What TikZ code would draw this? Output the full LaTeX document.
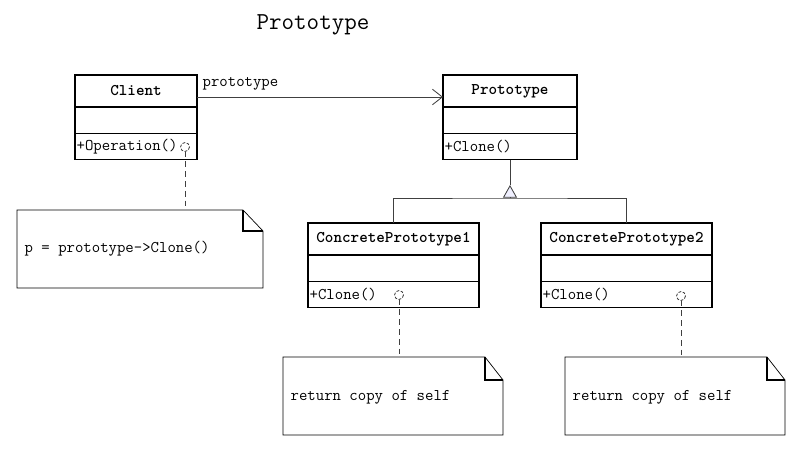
\documentclass[tikz,border=0pt]{standalone}
\usetikzlibrary{arrows.meta, positioning, calc}

\begin{document}
\begin{tikzpicture}[
		x=0.025cm, y=-0.025cm,
		every node/.style={font=\ttfamily\fontsize{11.6}{13}\selectfont, inner sep=1pt},
		head/.style={draw, line width=0.8pt, minimum width=#1, minimum height=0.8cm, outer sep=0pt, font=\ttfamily\bfseries\fontsize{11.6}{13}\selectfont},
		part/.style={draw, line width=0.8pt, minimum width=#1, minimum height=0.66cm, outer sep=0pt},
		assoc/.style={draw=black!75, line width=0.6pt, -{Straight Barb[length=7pt, width=11pt]}},
		link/.style={draw=black!75, line width=0.6pt},
		anchorline/.style={draw=black!75, line width=0.6pt, dashed, dash pattern=on 4pt off 3pt},
		port/.style={draw=black!75, line width=0.6pt, dash pattern=on 2pt off 1.2pt},
		gentip/.style={draw=black!75, line width=0.6pt, -{Triangle[open, fill=blue!6, length=9pt, width=10pt]}},
		notebox/.style={draw, line width=0.5pt, fill=white},
		fold/.style={draw, line width=0.8pt}
		]
	
		\useasboundingbox (0,0) rectangle (806,453);
	
		% title
		\node[font=\ttfamily\fontsize{17.3}{20}\selectfont] (title) at (313,25) {Prototype};
	
		% Client
		\node[head=3.05cm] at (136,91) (clih) {Client};
		\node[part=3.05cm, below=0pt of clih] (clia) {};
		\node[part=3.05cm, below=0pt of clia] (clim) {};
		\node[anchor=west] at (clim.west) (cliop) {+Operation()};
	
		% Prototype
		\node[head=3.35cm] at (510,91) (proh) {Prototype};
		\node[part=3.35cm, below=0pt of proh] (proa) {};
		\node[part=3.35cm, below=0pt of proa] (prom) {};
		\node[anchor=west] at (prom.west) (proop) {+Clone()};
	
		% ConcretePrototype1
		\node[head=4.275cm] at (393.5,239) (cp1h) {ConcretePrototype1};
		\node[part=4.275cm, below=0pt of cp1h] (cp1a) {};
		\node[part=4.275cm, below=0pt of cp1a] (cp1m) {};
		\node[anchor=west] at (cp1m.west) (cp1op) {+Clone()};
	
		% ConcretePrototype2
		\node[head=4.275cm] at (626.5,239) (cp2h) {ConcretePrototype2};
		\node[part=4.275cm, below=0pt of cp2h] (cp2a) {};
		\node[part=4.275cm, below=0pt of cp2a] (cp2m) {};
		\node[anchor=west] at (cp2m.west) (cp2op) {+Clone()};
	
		% association
		\draw[assoc] (clih.east |- 0,97) -- (proh.west |- 0,97);
		\node[anchor=south west] at (201,92) (assoclabel) {prototype};
	
		% generalization
		\coordinate (gen) at (510,198);
		\coordinate (genapex) at (510,185);
		\draw[link] (prom.south) -- (genapex);
		\draw[gentip] (gen) -- (genapex);
		\draw[link] (cp1h.north) |- (gen) -| (cp2h.north);
	
		% notes
		\draw[notebox] (17,210) -- (243,210) -- (263,231) -- (263,288) -- (17,288) -- cycle;
		\draw[fold] (243,210) -- (243,231) -- (263,231);
		\node[anchor=west] at (23,249) (note1) {p = prototype->Clone()};
	
		\draw[notebox] (283,357) -- (485,357) -- (503,380) -- (503,435) -- (283,435) -- cycle;
		\draw[fold] (485,357) -- (485,380) -- (503,380);
		\node[anchor=west] at (289,397) (note2) {return copy of self};
	
		\draw[notebox] (565,357) -- (767,357) -- (785,380) -- (785,435) -- (565,435) -- cycle;
		\draw[fold] (767,357) -- (767,380) -- (785,380);
		\node[anchor=west] at (571,397) (note3) {return copy of self};
	
		% note anchors
		\coordinate (port1) at (185,147);
		\coordinate (port2) at (399,295);
		\coordinate (port3) at (681,296);
		\draw[port] (port1) circle (4.5);
		\draw[port] (port2) circle (4.5);
		\draw[port] (port3) circle (4.5);
		\draw[anchorline] ($(port1)+(0,4.5)$) -- (185,210);
		\draw[anchorline] ($(port2)+(0,4.5)$) -- (399,357);
		\draw[anchorline] ($(port3)+(0,4.5)$) -- (681,357);
	
	\end{tikzpicture}
\end{document}
